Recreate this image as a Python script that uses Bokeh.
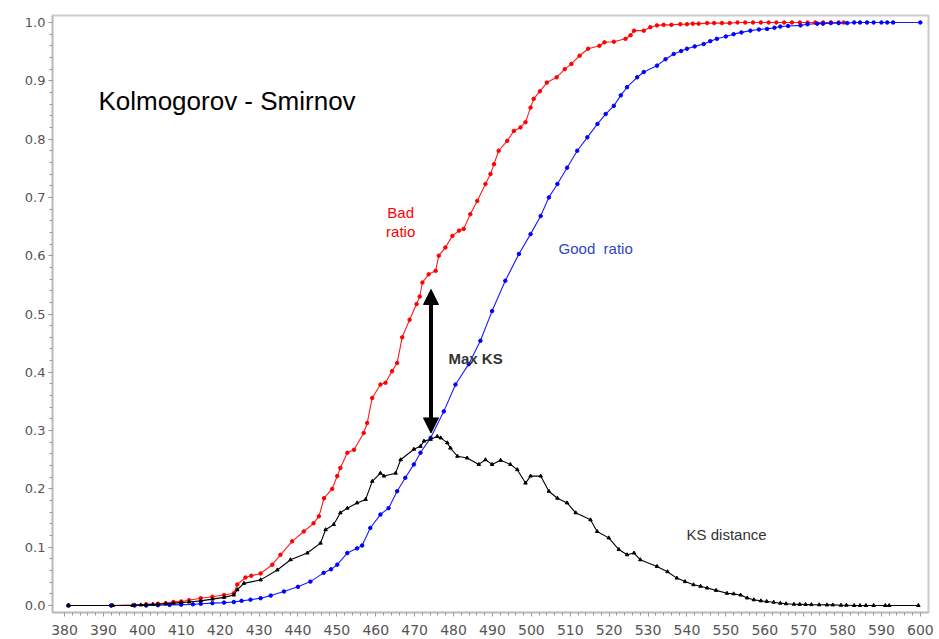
from bokeh.plotting import figure
from bokeh.models import Range1d, FixedTicker, Arrow, NormalHead, Label, CustomJSTickFormatter
from bokeh.embed import file_html
from bokeh.resources import INLINE

# ---------------- data ----------------
bad_x = [381, 392, 398, 401, 404, 406, 408, 410, 412, 415, 418, 421, 423.5, 424.4, 426.5, 428,
         430.4, 433.4, 435.5, 438.5, 441.5, 444, 445.4, 446.7, 448.8, 450.1, 450.9, 452.7, 454.4,
         456.9, 457.8, 459.1, 461.2, 462.5, 464.2, 465.5, 466.8, 468.7, 470.5, 471.3, 472.0, 473.6,
         475.4, 476.2, 477.9, 479.7, 481.4, 482.6, 484.3, 486.1, 488.2, 489.5, 490.4, 491.6, 493.8,
         495.5, 497.2, 498.5, 499.8, 500.6, 502.2, 504.0, 506.5, 508.6, 510.3, 512.4, 514.6, 517.5,
         518.8, 521.2, 524.2, 525.5, 526.4, 528.9, 530.6, 532.3, 534, 536, 538.3, 540, 541.5, 543,
         545.2, 547, 549, 551, 553, 555, 557, 559, 561, 563, 565, 567, 569, 571, 573, 575, 577,
         579, 580.3]
bad_y = [0, 0, 0.001, 0.002, 0.003, 0.004, 0.006, 0.007, 0.009, 0.0125, 0.015, 0.018, 0.021, 0.036,
         0.048, 0.051, 0.055, 0.07, 0.087, 0.11, 0.127, 0.141, 0.153, 0.184, 0.2, 0.222, 0.236, 0.262,
         0.267, 0.296, 0.313, 0.356, 0.379, 0.382, 0.402, 0.416, 0.46, 0.49, 0.517, 0.53, 0.554, 0.568,
         0.574, 0.6, 0.614, 0.634, 0.643, 0.646, 0.671, 0.694, 0.723, 0.74, 0.757, 0.78, 0.797, 0.814,
         0.82, 0.829, 0.854, 0.869, 0.882, 0.897, 0.906, 0.92, 0.929, 0.943, 0.955, 0.96, 0.966, 0.967,
         0.972, 0.978, 0.986, 0.986, 0.992, 0.995, 0.996, 0.996, 0.997, 0.997, 0.998, 0.998,
         0.999, 0.999, 0.999, 0.999, 1.0, 1.0, 1.0, 1.0, 1.0, 1.0, 1.0, 1.0, 1.0, 1.0, 1.0, 1.0, 1.0,
         1.0, 1.0]

good_x = [381, 392, 398, 401, 404, 407, 410, 413, 415, 418, 421, 423.5, 425.5, 427.8, 430.4, 433,
          436.4, 440, 443.2, 446.6, 448.5, 450.1, 452.7, 455.2, 456.5, 458.6, 461.2, 463.3, 465.5,
          467.6, 469.8, 471.5, 474.1, 477.5, 480.5, 483.9, 486.9, 489.9, 493.3, 496.8, 499.8, 502.4,
          504.5, 506.7, 509.2, 511.8, 514.4, 517, 519.1, 521.2, 523, 524.6, 527.2, 528.9, 532.3, 534.5,
          536.6, 538.5, 540, 542, 544.3, 546, 547.7, 550, 552, 554, 556.3, 558.5, 560.6, 562.5, 564,
          566, 569.2, 571, 573.5, 575, 577, 579, 581.2, 583, 584.5, 586.3, 588, 590, 591.5, 593, 600]
good_y = [0, 0, 0, 0, 0.0005, 0.001, 0.0015, 0.002, 0.003, 0.004, 0.005, 0.006, 0.008, 0.01, 0.0125,
          0.017, 0.024, 0.032, 0.041, 0.056, 0.062, 0.07, 0.09, 0.098, 0.103, 0.133, 0.156, 0.167,
          0.196, 0.219, 0.242, 0.262, 0.2875, 0.333, 0.379, 0.414, 0.454, 0.505, 0.557, 0.603, 0.637,
          0.668, 0.7, 0.723, 0.751, 0.78, 0.803, 0.826, 0.843, 0.857, 0.875, 0.889, 0.906, 0.915, 0.926,
          0.937, 0.946, 0.951, 0.955, 0.959, 0.963, 0.968, 0.972, 0.976, 0.98, 0.983, 0.986, 0.988,
          0.989, 0.991, 0.993, 0.994, 0.995, 0.997, 0.998, 0.998, 0.999, 0.999, 0.999, 1.0, 1.0, 1.0,
          1.0, 1.0, 1.0, 1.0, 1.0]

ks_x = [381, 392.4, 397.5, 399.6, 400.9, 402.7, 404, 406, 408, 410, 412, 415, 418, 421, 423.5, 424.4,
        426.1, 430.4, 434.7, 438.1, 442.4, 445.8, 447.1, 449.2, 450.9, 452.7, 455.2, 457.4, 459.1,
        461.2, 462.1, 465.1, 466.4, 469.8, 471.5, 472.4, 474.1, 475.8, 476.7, 478.4, 479.2, 481,
        483.5, 486.5, 488.2, 489.9, 492.1, 494.6, 496.4, 498.5, 499.8, 502.4, 504.5, 506.7, 509.2,
        511.4, 515.2, 516.9, 519.9, 522.5, 524.6, 526.4, 528, 532.3, 535, 537.4, 539.5, 541.7,
        543.5, 545.2, 547.5, 550.3, 552, 553.8, 555.5, 557.2, 559, 560.5, 562.3, 564, 565.5, 567.5,
        569, 570.5, 572, 574, 576, 577.5, 579.6, 581, 583, 584.5, 586, 588, 591, 592, 599.5]
ks_y = [0, 0, 0, 0.001, 0.001, 0.002, 0.002, 0.003, 0.004, 0.005, 0.006, 0.008, 0.011, 0.014, 0.018,
        0.027, 0.038, 0.044, 0.061, 0.0785, 0.09, 0.107, 0.13, 0.139, 0.159, 0.167, 0.176, 0.182,
        0.213, 0.227, 0.222, 0.227, 0.25, 0.268, 0.273, 0.282, 0.285, 0.29, 0.2875, 0.279, 0.27,
        0.256, 0.253, 0.242, 0.25, 0.242, 0.249, 0.242, 0.233, 0.21, 0.222, 0.222, 0.196, 0.184,
        0.176, 0.159, 0.147, 0.127, 0.116, 0.096, 0.087, 0.09, 0.0785, 0.067, 0.058, 0.047, 0.041,
        0.0356, 0.033, 0.03, 0.026, 0.021, 0.02, 0.018, 0.013, 0.0098, 0.008, 0.007, 0.0057, 0.004,
        0.003, 0.0022, 0.002, 0.0018, 0.0015, 0.0012, 0.001, 0.001, 0.0005, 0.0005, 0, 0, 0, 0, 0, 0, 0]

x_ticks = list(range(380, 601, 10))
y_ticks = [i / 10 for i in range(0, 11)]
x_minor = [380 + 2 * i for i in range(0, 111)]
y_minor = [i / 50 for i in range(0, 51)]

# annotation anchors (data coordinates)
max_ks_x = 474.2
arrow_top = 0.542
arrow_bottom = 0.296
title_text = "Kolmogorov - Smirnov"

# ---------------- figure ----------------
p = figure(width=936, height=637, output_backend="svg", toolbar_location=None,
           x_range=Range1d(376.9, 602.1), y_range=Range1d(-0.012, 1.012),
           min_border_left=52, min_border_top=15, min_border_right=8, min_border_bottom=0)
p.background_fill_color = "white"
p.border_fill_color = "white"
p.outline_line_color = "#c9cccc"
p.outline_line_width = 2
p.xgrid.visible = False
p.ygrid.visible = False

p.xaxis.ticker = FixedTicker(ticks=x_ticks, minor_ticks=x_minor)
p.yaxis.ticker = FixedTicker(ticks=y_ticks, minor_ticks=y_minor)
p.yaxis.formatter = CustomJSTickFormatter(code="return tick.toFixed(1);")

for ax in (p.xaxis[0], p.yaxis[0]):
    ax.axis_line_color = "#b8bcbc"
    ax.axis_line_width = 1.5
    ax.major_tick_line_color = "#9a9a9a"
    ax.minor_tick_line_color = "#9a9a9a"
    ax.major_tick_out = 4
    ax.major_tick_in = 0
    ax.minor_tick_out = 3
    ax.minor_tick_in = 0
    ax.major_label_text_color = "#555555"
    ax.major_label_text_font = "DejaVu Sans"
p.yaxis.major_label_text_font_size = "13px"
p.xaxis.major_label_text_font_size = "14px"
p.yaxis.major_label_standoff = 3
p.xaxis.major_label_standoff = 8

# ---------------- series ----------------
p.line(bad_x, bad_y, line_color="#ff1a1a", line_width=1.1)
p.scatter(bad_x, bad_y, marker="circle", size=3.5, fill_color="#ff0000", line_color="#ff0000")

p.line(good_x, good_y, line_color="#1a1aff", line_width=1.1)
p.scatter(good_x, good_y, marker="circle", size=3.5, fill_color="#0000ff", line_color="#0000ff")

p.line(ks_x, ks_y, line_color="#000000", line_width=1.1)
p.scatter(ks_x, ks_y, marker="triangle", size=3.5, fill_color="#000000", line_color="#000000")

# ---------------- arrow ----------------
p.add_layout(Arrow(
    start=NormalHead(size=15, fill_color="black", line_color="black"),
    end=NormalHead(size=15, fill_color="black", line_color="black"),
    x_start=max_ks_x, y_start=arrow_bottom, x_end=max_ks_x, y_end=arrow_top,
    line_width=4, line_color="black"))

# ---------------- labels ----------------
def lab(x, y, text, color, size, style="normal", align="left"):
    p.add_layout(Label(x=x, y=y, text=text, text_color=color, text_font="Liberation Sans",
                       text_font_size=size, text_font_style=style, text_align=align,
                       text_baseline="middle"))

lab(388.7, 0.866, title_text, "#000000", "26px")
lab(466.4, 0.6735, "Bad", "#ff0000", "15px", align="center")
lab(466.4, 0.641, "ratio", "#ff0000", "15px", align="center")
lab(507.0, 0.6117, "Good\u00a0 ratio", "#2f45c8", "15px")
lab(478.7, 0.4244, "Max KS", "#333333", "15px", style="bold")
lab(539.9, 0.122, "KS distance", "#333333", "15px")

open("out.html", "w").write(file_html(p, INLINE))
